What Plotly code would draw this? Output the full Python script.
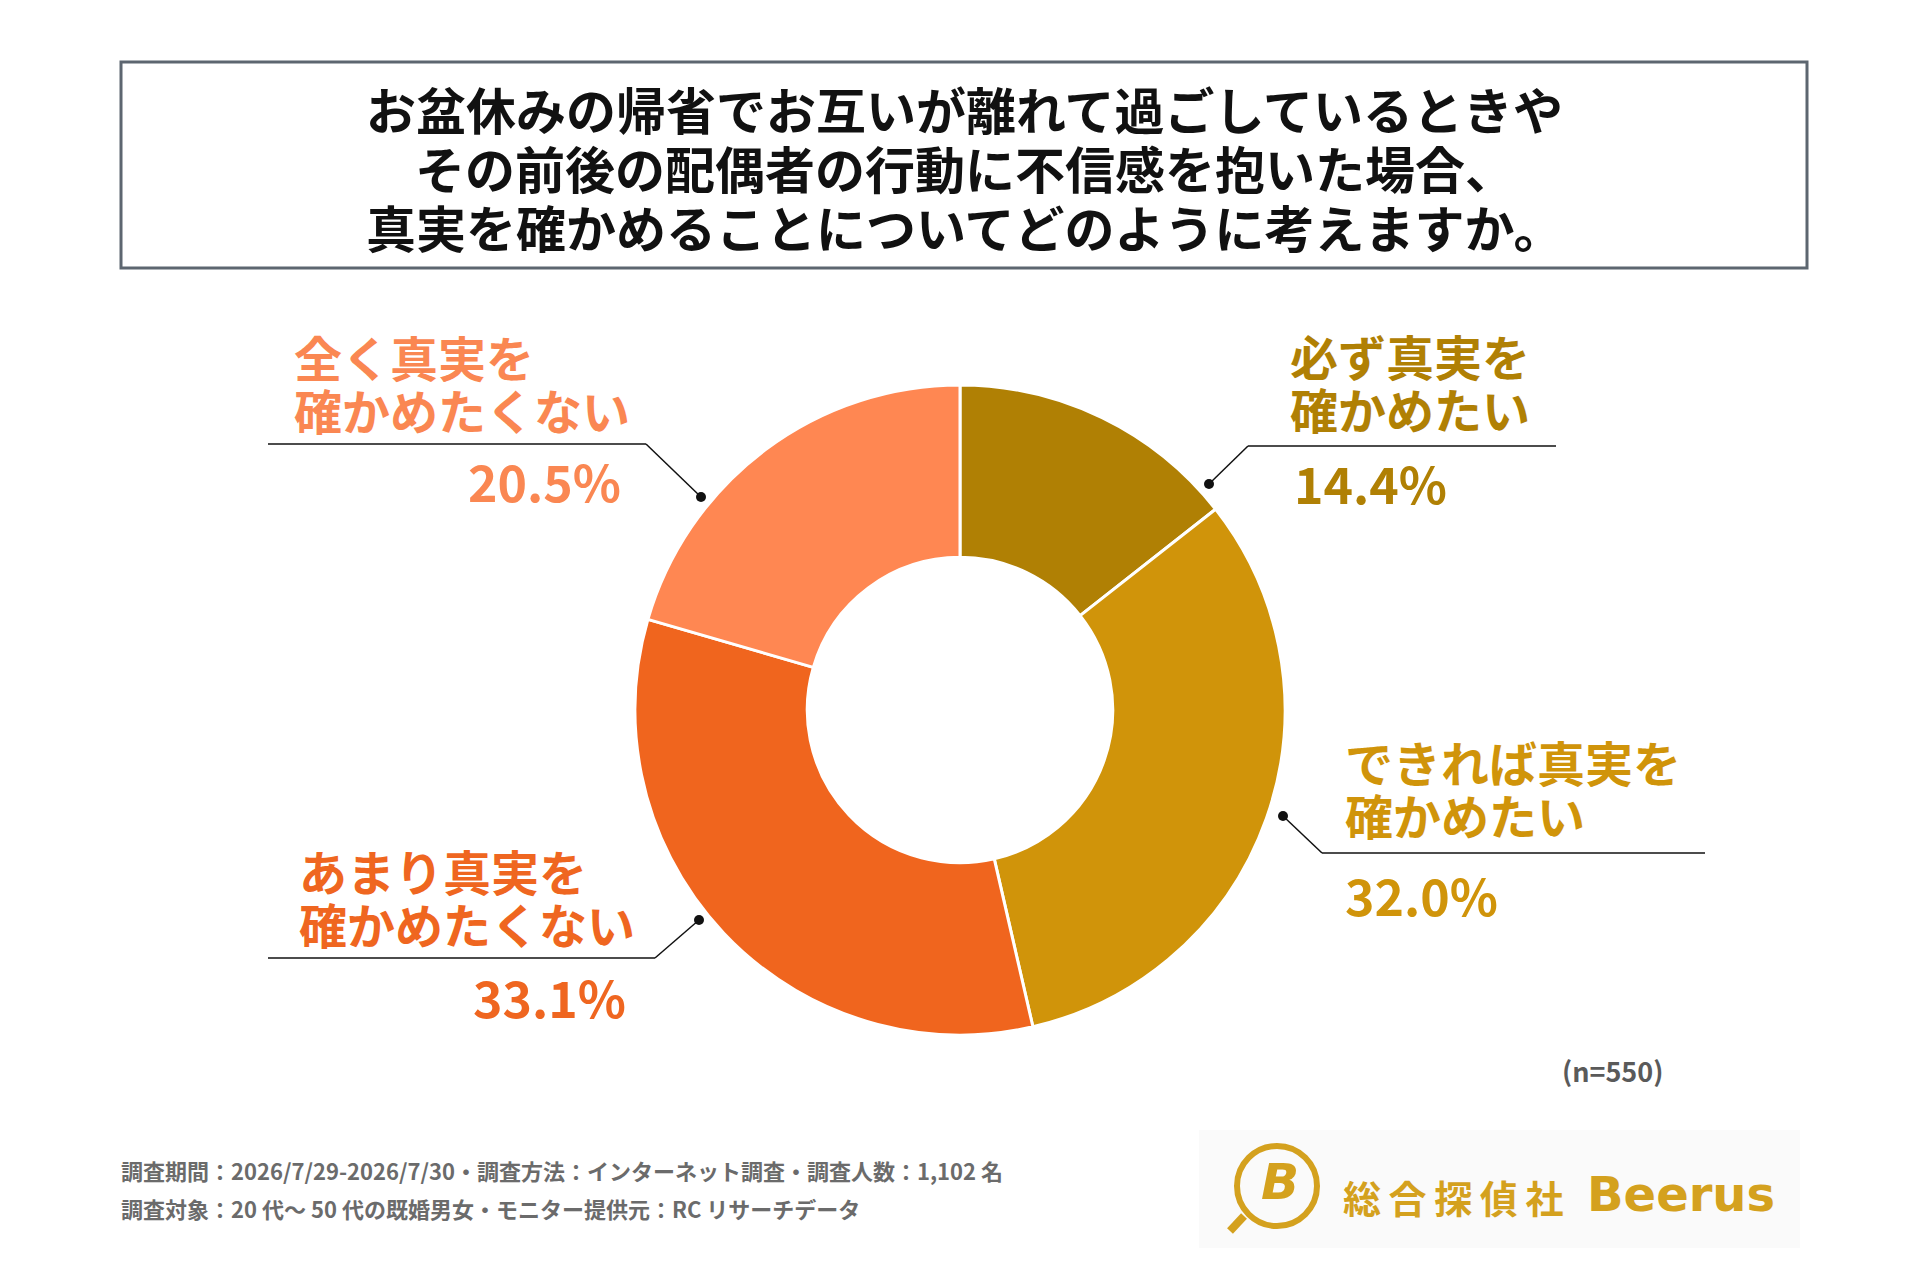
import plotly.graph_objects as go

# survey answers, clockwise from 12 o'clock
categories = ['必ず真実を確かめたい', 'できれば真実を確かめたい', 'あまり真実を確かめたくない', '全く真実を確かめたくない']
label_lines = [['必ず真実を', '確かめたい'],
               ['できれば真実を', '確かめたい'],
               ['あまり真実を', '確かめたくない'],
               ['全く真実を', '確かめたくない']]
shares = [14.4, 32.0, 33.1, 20.5]
colors = ['#B08004', '#D0940A', '#F0651E', '#FF8752']
text_colors = ['#B08004', '#D0940A', '#EF6620', '#FA8752']

title_lines = ['お盆休みの帰省でお互いが離れて過ごしているときや',
               'その前後の配偶者の行動に不信感を抱いた場合、',
               '真実を確かめることについてどのように考えますか。']
footer_lines = ['調査期間：2026/7/29-2026/7/30・調査方法：インターネット調査・調査人数：1,102 名',
                '調査対象：20 代～ 50 代の既婚男女・モニター提供元：RC リサーチデータ']
sample_note = '(n=550)'

W, H = 1920, 1280
FONT = 'Noto Sans CJK JP'


def px(x):
    return x / W


def py(y):
    return 1 - y / H


fig = go.Figure()

fig.add_trace(go.Pie(
    labels=categories,
    values=shares,
    sort=False,
    direction='clockwise',
    rotation=0,
    hole=0.47,
    marker=dict(colors=colors, line=dict(color='white', width=3)),
    textinfo='none',
    hoverinfo='label+percent',
    showlegend=False,
    domain=dict(x=[px(635), px(1285)], y=[py(1035), py(385)]),
))

annotations = []
shapes = []

# title box
shapes.append(dict(type='rect', xref='paper', yref='paper',
                   x0=px(121), x1=px(1807), y0=py(268), y1=py(62),
                   line=dict(color='#5D6670', width=3), fillcolor='white', layer='below'))
for i, t in enumerate(title_lines):
    annotations.append(dict(text=t, x=px(965), y=py(108 + 59 * i), xanchor='center', yanchor='middle',
                            font=dict(family=FONT, size=50, color='#111111', weight='bold')))

# callout layout: text left edge, line1 y, percent x / anchor, percent y, dot, elbow, line end
callouts = [
    dict(tx=1288, ty=355, vx=1292, va='left', vy=482, dot=(1209, 484), elbow=(1248, 446), end=1556),
    dict(tx=1343, ty=761, vx=1343, va='left', vy=894, dot=(1283, 816), elbow=(1322, 853), end=1705),
    dict(tx=297, ty=870, vx=628, va='right', vy=996, dot=(699, 920), elbow=(655, 958), end=268),
    dict(tx=292, ty=356, vx=623, va='right', vy=480, dot=(701, 497), elbow=(646, 444), end=268),
]

for i, c in enumerate(callouts):
    for j, line in enumerate(label_lines[i]):
        annotations.append(dict(text=line, x=px(c['tx']), y=py(c['ty'] + 53 * j),
                                xanchor='left', yanchor='middle',
                                font=dict(family=FONT, size=48, color=text_colors[i], weight='bold')))
    annotations.append(dict(text=f'{shares[i]:.1f}%', x=px(c['vx']), y=py(c['vy']),
                            xanchor=c['va'], yanchor='middle',
                            font=dict(family=FONT, size=50, color=text_colors[i], weight='bold')))
    dx, dy = c['dot']
    ex, ey = c['elbow']
    shapes.append(dict(type='line', xref='paper', yref='paper',
                       x0=px(dx), y0=py(dy), x1=px(ex), y1=py(ey),
                       line=dict(color='#111111', width=1.5)))
    shapes.append(dict(type='line', xref='paper', yref='paper',
                       x0=px(ex), y0=py(ey), x1=px(c['end']), y1=py(ey),
                       line=dict(color='#111111', width=1.5)))
    shapes.append(dict(type='circle', xref='paper', yref='paper',
                       x0=px(dx - 5), x1=px(dx + 5), y0=py(dy + 5), y1=py(dy - 5),
                       fillcolor='#111111', line=dict(width=0)))

annotations.append(dict(text=sample_note, x=px(1612), y=py(1070), xanchor='center', yanchor='middle',
                        font=dict(family=FONT, size=27, color='#5A5A5A', weight='bold')))

for i, t in enumerate(footer_lines):
    annotations.append(dict(text=t, x=px(119), y=py(1170 + 38 * i), xanchor='left', yanchor='middle',
                            font=dict(family=FONT, size=22, color='#6B6B6B', weight='bold')))

# logo
gold = '#D4A11E'
shapes.append(dict(type='rect', xref='paper', yref='paper',
                   x0=px(1199), x1=px(1800), y0=py(1248), y1=py(1130),
                   fillcolor='#FAFAFA', line=dict(width=0), layer='below'))
shapes.append(dict(type='circle', xref='paper', yref='paper',
                   x0=px(1237), x1=px(1317), y0=py(1226), y1=py(1146),
                   line=dict(color=gold, width=6)))
shapes.append(dict(type='line', xref='paper', yref='paper',
                   x0=px(1244), x1=px(1230), y0=py(1216), y1=py(1231),
                   line=dict(color=gold, width=8)))
annotations.append(dict(text='<i>B</i>', x=px(1280), y=py(1182), xanchor='center', yanchor='middle',
                        font=dict(family='DejaVu Sans', size=50, color=gold, weight='bold')))
annotations.append(dict(text='総\u2009合\u2009探\u2009偵\u2009社', x=px(1341), y=py(1196), xanchor='left', yanchor='middle',
                        font=dict(family=FONT, size=38, color=gold, weight='bold')))
annotations.append(dict(text='Beerus', x=px(1585), y=py(1194), xanchor='left', yanchor='middle',
                        font=dict(family='DejaVu Sans', size=48, color=gold, weight='bold')))

for a in annotations:
    a.update(xref='paper', yref='paper', showarrow=False)

fig.update_layout(
    width=W, height=H,
    margin=dict(l=0, r=0, t=0, b=0),
    paper_bgcolor='white',
    plot_bgcolor='white',
    annotations=annotations,
    shapes=shapes,
)

fig.write_html('out.html', config={'displayModeBar': False},
               post_script="document.body.style.margin='0';")
